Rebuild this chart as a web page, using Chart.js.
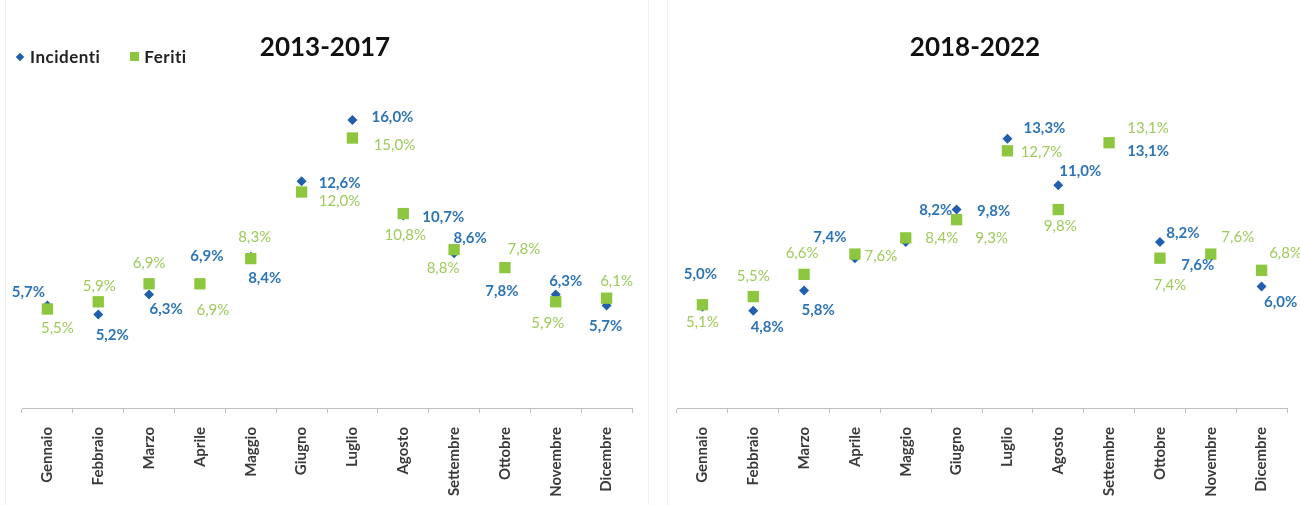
<!DOCTYPE html>
<html>
<head>
<meta charset="utf-8">
<script src="https://cdn.jsdelivr.net/npm/chart.js@4.4.1/dist/chart.umd.min.js"></script>
<style>
  body { margin: 0; background: #fff; width: 1300px; height: 505px; overflow: hidden; font-family: Lato, "Open Sans", sans-serif; }
  .panel { position: absolute; top: 0; width: 650px; height: 505px; }
  #p1 { left: 0; }
  #p2 { left: 650px; }
  .frame { position: absolute; top: 0; height: 505px; border-left: 1px solid #f0f0f0; border-right: 1px solid #f0f0f0; }
  .title { position: absolute; top: 30px; left: 0; width: 650px; text-align: center; font: bold 26px Lato, sans-serif; color: #111; }
  .legend { position: absolute; left: 15px; top: 44px; font: bold 17px Lato, sans-serif; color: #222; white-space: nowrap; letter-spacing: 0.5px; }
  .legend span { display: inline-block; vertical-align: middle; }
  .dia { width: 6px; height: 6px; background: #1f5fae; transform: rotate(45deg); margin: 0 7px 0 2px; }
  .sq { width: 9px; height: 9px; background: #8dc63f; margin: 0 5px 0 30px; }
  canvas { position: absolute; left: 0; top: 0; }
</style>
</head>
<body>
<div class="frame" style="left:5px;width:642px"></div>
<div class="frame" style="left:667px;width:632px"></div>

<div class="panel" id="p1">
  <canvas id="c1" width="650" height="505"></canvas>
  <div class="title">2013-2017</div>
  <div class="legend"><span class="dia"></span><span>Incidenti</span><span class="sq"></span><span>Feriti</span></div>
</div>
<div class="panel" id="p2">
  <canvas id="c2" width="650" height="505"></canvas>
  <div class="title">2018-2022</div>
</div>

<script>
// ---- dati (% sul totale annuo, per mese) ----
const months = ["Gennaio", "Febbraio", "Marzo", "Aprile", "Maggio", "Giugno",
                "Luglio", "Agosto", "Settembre", "Ottobre", "Novembre", "Dicembre"];

const incidenti2013 = [5.7, 5.2, 6.3, 6.9, 8.4, 12.6, 16.0, 10.7, 8.6, 7.8, 6.3, 5.7];
const feriti2013    = [5.5, 5.9, 6.9, 6.9, 8.3, 12.0, 15.0, 10.8, 8.8, 7.8, 5.9, 6.1];

const incidenti2018 = [5.0, 4.8, 5.8, 7.4, 8.2, 9.8, 13.3, 11.0, 13.1, 8.2, 7.6, 6.0];
const feriti2018    = [5.1, 5.5, 6.6, 7.6, 8.4, 9.3, 12.7, 9.8, 13.1, 7.4, 7.6, 6.8];

const yMax2013 = 18;
const yMax2018 = 16;

// ---- stile ----
const BLUE_PT = "#1f5fae";
const GREEN_PT = "#8dc63f";
const BLUE_TXT = "#2e75b6";
const GREEN_TXT = "#9dcb5c";

// spostamento (dx, dy) di ogni etichetta rispetto al suo punto
const offInc2013 = [[-19,-13],[14,21],[17,15],[7,-28],[14,21],[38,2],[40,-3],[40,2],[16,-15],[-3,24],[10,-13],[-1,21]];
const offFer2013 = [[10,19],[1,-16],[0,-21],[13,26],[4,-21],[38,9],[42,7],[2,22],[-11,19],[19,-18],[-8,21],[10,-17]];
const offInc2018 = [[-2,-33],[14,16],[14,20],[-25,-21],[30,-32],[37,2],[37,-11],[22,-14],[39,8],[23,-9],[-13,11],[19,16]];
const offFer2018 = [[0,17],[0,-20],[-2,-21],[26,2],[36,0],[35,18],[34,1],[2,17],[39,-15],[10,27],[27,-17],[24,-17]];

const fmt = (v) => v.toFixed(1).replace(".", ",") + "%";

// etichette dei valori accanto ai punti (niente plugin datalabels: disegno a mano)
const valueLabels = {
  id: "valueLabels",
  afterDatasetsDraw(chart) {
    const ctx = chart.ctx;
    chart.data.datasets.forEach((ds, di) => {
      const meta = chart.getDatasetMeta(di);
      ctx.save();
      ctx.font = ds.labelFont;
      ctx.fillStyle = ds.labelColor;
      ctx.textAlign = "center";
      ctx.textBaseline = "middle";
      meta.data.forEach((pt, i) => {
        const [dx, dy] = ds.labelOffsets[i];
        ctx.fillText(fmt(ds.data[i]), pt.x + dx, pt.y + dy);
      });
      ctx.restore();
    });
  }
};

function makeChart(canvasId, inc, fer, offInc, offFer, yMax, padL, padR) {
  return new Chart(document.getElementById(canvasId), {
    type: "line",
    data: {
      labels: months,
      datasets: [
        {
          label: "Feriti",
          data: fer,
          order: 0,
          showLine: false,
          pointStyle: "rect",
          pointRadius: 8,
          backgroundColor: GREEN_PT,
          borderColor: GREEN_PT,
          borderWidth: 0,
          labelColor: GREEN_TXT,
          labelFont: "15px Lato, sans-serif",
          labelOffsets: offFer
        },
        {
          label: "Incidenti",
          data: inc,
          order: 1,
          showLine: false,
          pointStyle: "rectRot",
          pointRadius: 5,
          backgroundColor: BLUE_PT,
          borderColor: BLUE_PT,
          borderWidth: 0,
          labelColor: BLUE_TXT,
          labelFont: "bold 15px Lato, sans-serif",
          labelOffsets: offInc
        }
      ]
    },
    options: {
      responsive: false,
      animation: false,
      layout: { padding: { left: padL, right: padR, top: 84, bottom: 0 } },
      plugins: { legend: { display: false }, tooltip: { enabled: false } },
      scales: {
        x: {
          type: "category",
          offset: true,
          grid: { offset: true, drawOnChartArea: false, drawTicks: true, tickLength: 5, color: "#bfbfbf" },
          border: { color: "#bfbfbf" },
          ticks: {
            autoSkip: false,
            minRotation: 90,
            maxRotation: 90,
            padding: 14,
            color: "#3a3a3a",
            font: { family: "Lato", size: 15, weight: "bold" }
          },
          afterFit(scale) { scale.height = 97; }
        },
        y: { display: false, min: 0, max: yMax }
      }
    },
    plugins: [valueLabels]
  });
}

makeChart("c1", incidenti2013, feriti2013, offInc2013, offFer2013, yMax2013, 22, 18);
makeChart("c2", incidenti2018, feriti2018, offInc2018, offFer2018, yMax2018, 27, 13);
</script>
</body>
</html>
